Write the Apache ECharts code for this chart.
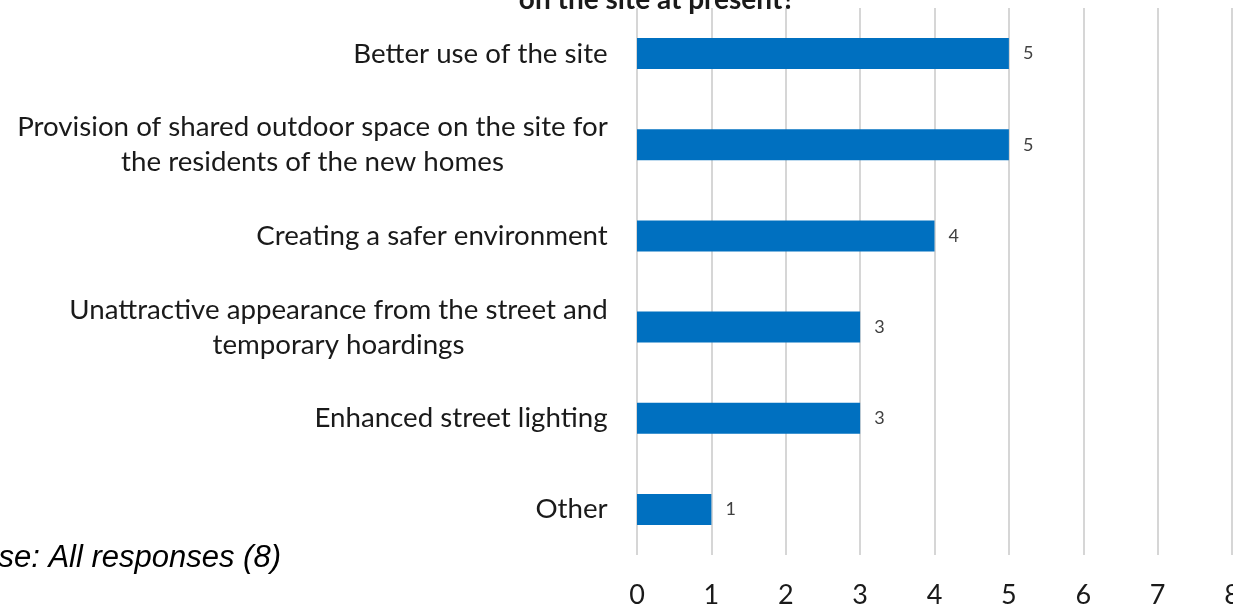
<!DOCTYPE html>
<html>
<head>
<meta charset="utf-8">
<style>
  html, body { margin: 0; padding: 0; background: #ffffff; }
  #chart { width: 1233px; height: 604px; }
</style>
<script src="https://cdn.jsdelivr.net/npm/echarts@6/dist/echarts.min.js"></script>
</head>
<body>
<div id="chart"></div>
<script>
// Survey answers, top to bottom
const categories = [
  'Better use of the site',
  'Provision of shared outdoor space on the site for\nthe residents of the new homes',
  'Creating a safer environment',
  'Unattractive appearance from the street and\ntemporary hoardings',
  'Enhanced street lighting',
  'Other'
];
const counts = [5, 5, 4, 3, 3, 1];
const xTicks = [0, 1, 2, 3, 4, 5, 6, 7, 8];
const titleText = 'on the site at present?';
const baseNote = 'Base: All responses (8)';

const labelFont = 'Lato, "Open Sans", sans-serif';
const labelSize = 27.7;

// Multi-line category labels have their lines centred on each other,
// so each label gets a rich style as wide as its longest line.
const ctx = document.createElement('canvas').getContext('2d');
ctx.font = labelSize + 'px ' + labelFont;
const rich = {};
categories.forEach((c, i) => {
  const w = Math.max(...c.split('\n').map(s => ctx.measureText(s).width));
  rich['c' + i] = { width: Math.ceil(w), align: 'center', fontSize: labelSize,
    fontFamily: labelFont, color: '#1a1a1a', lineHeight: 35 };
});

const chart = echarts.init(document.getElementById('chart'));
chart.setOption({
  animation: false,
  backgroundColor: '#ffffff',
  title: {
    text: titleText,
    left: 652, top: -19, textAlign: 'center',
    textStyle: { fontFamily: labelFont, fontWeight: 'bold', fontSize: 28, color: '#1a1a1a' }
  },
  graphic: [{
    type: 'text', right: 1233 - 281, top: 543,
    style: { text: baseNote, font: 'italic 31px "Liberation Sans", Arial, sans-serif', fill: '#000', textAlign: 'right' }
  }],
  grid: { left: 637, right: 1, top: 8, bottom: 49, containLabel: false, outerBoundsMode: 'none' },
  xAxis: {
    type: 'value', min: 0, max: 8, interval: 1,
    axisLine: { show: false }, axisTick: { show: false },
    splitLine: { lineStyle: { color: '#d6d6d6', width: 2 } },
    axisLabel: {
      margin: 27, fontSize: 27, fontFamily: labelFont, color: '#1a1a1a',
      formatter: v => xTicks.includes(v) ? String(v) : ''
    }
  },
  yAxis: {
    type: 'category', data: categories, inverse: true,
    axisLine: { show: false }, axisTick: { show: false },
    axisLabel: {
      margin: 29, align: 'right',
      formatter: (v, i) => v.split('\n').map(s => '{c' + i + '|' + s + '}').join('\n'),
      rich: rich
    }
  },
  series: [{
    type: 'bar', data: counts, barWidth: 31,
    itemStyle: { color: '#0070C0' },
    label: {
      show: true, position: 'right', distance: 14,
      fontSize: 18, fontFamily: labelFont, color: '#404040'
    }
  }]
});
</script>
</body>
</html>
